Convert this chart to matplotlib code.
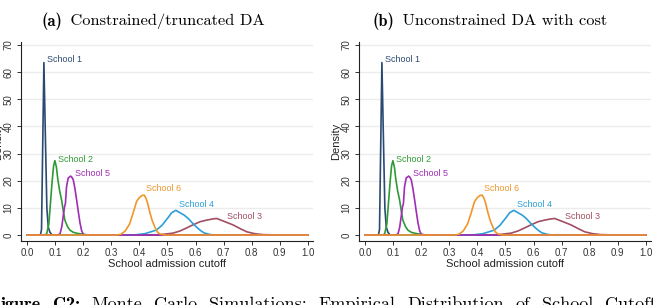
import matplotlib
matplotlib.use("Agg")
import matplotlib.pyplot as plt

plt.rcParams['font.family'] = ['Liberation Sans', 'DejaVu Sans']

# density curves (cutoff, density)
s1_x = [0.0, 0.048, 0.052, 0.0605, 0.066, 0.071, 0.076, 0.082, 0.09, 1.0]
s1_y = [0, 0, 2, 63.5, 35, 10, 3, 1, 0, 0]

s2_x = [0, 0.06, 0.07, 0.078, 0.084, 0.09, 0.095, 0.0996, 0.105, 0.11, 0.117,
        0.1235, 0.13, 0.135, 0.145, 0.153, 0.165, 0.18, 0.2, 0.22, 1.0]
s2_y = [0, 0, 0.3, 4, 12, 20, 25.5, 27.4, 25, 20.5, 16,
        12.9, 8.5, 5.5, 3, 1.8, 1, 0.6, 0.3, 0, 0]

s5_x = [0, 0.11, 0.118, 0.124, 0.13, 0.134, 0.137, 0.141, 0.147, 0.1555, 0.16,
        0.165, 0.171, 0.177, 0.183, 0.189, 0.195, 0.202, 1]
s5_y = [0, 0, 0.5, 3, 7.5, 10.5, 11.5, 17.8, 21, 21.7, 21.3,
        20.3, 17, 12.9, 8.5, 4.4, 1.5, 0, 0]

s6_x = [0, 0.32, 0.335, 0.35, 0.365, 0.378, 0.39, 0.40, 0.41, 0.4176, 0.425,
        0.43, 0.438, 0.446, 0.455, 0.464, 0.473, 0.49, 1]
s6_y = [0, 0, 0.3, 1.5, 4, 8.1, 12.3, 13.8, 14.6, 14.7, 13.2,
        11.5, 8.1, 5.3, 3, 1.2, 0.4, 0, 0]

s4_x = [0, 0.38, 0.42, 0.46, 0.48, 0.503, 0.515, 0.530, 0.545, 0.56, 0.574,
        0.59, 0.605, 0.616, 0.63, 0.651, 0.67, 1]
s4_y = [0, 0, 0.5, 1.8, 3.5, 6.5, 8.2, 9.1, 8.2, 7.3, 6.1,
        4.3, 2.8, 1.8, 0.8, 0.2, 0, 0]

s3_x = [0, 0.44, 0.48, 0.52, 0.545, 0.568, 0.59, 0.616, 0.64, 0.66, 0.675,
        0.69, 0.71, 0.734, 0.76, 0.782, 0.81, 0.84, 0.9, 1]
s3_y = [0, 0, 0.2, 0.7, 1.5, 2.6, 3.7, 4.9, 5.5, 5.9, 6.1,
        5.5, 4.7, 3.7, 2.3, 1.2, 0.5, 0.15, 0, 0]

schools = ['School 1', 'School 2', 'School 3', 'School 4', 'School 5', 'School 6']
curves = [(s1_x, s1_y), (s2_x, s2_y), (s3_x, s3_y), (s4_x, s4_y), (s5_x, s5_y), (s6_x, s6_y)]
colors = ['#2b4a73', '#2f9a35', '#a14e62', '#2b9fd8', '#a02db5', '#f0962a']
# where the labels sit (cutoff, density)
label_x = [0.071, 0.112, 0.713, 0.542, 0.171, 0.422]
label_y = [64.5, 27.9, 6.9, 11.4, 22.5, 17.0]

title_tags = ['(a)', '(b)']
title_texts = ['Constrained/truncated DA', 'Unconstrained DA with cost']

W, H = 653, 305
fig = plt.figure(figsize=(W / 100, H / 100), dpi=100)
rend = fig.canvas.get_renderer()


def px_axes(x0, y0, x1, y1):
    return fig.add_axes([x0 / W, 1 - y1 / H, (x1 - x0) / W, (y1 - y0) / H])


def text_w(t):
    return t.get_window_extent(renderer=rend).width


panels = [px_axes(21, 42, 313, 241), px_axes(359, 42, 651, 241)]
title_cx = [153, 490]

for ax, tag, ttl, cx in zip(panels, title_tags, title_texts, title_cx):
    for y in range(10, 80, 10):
        ax.axhline(y, color='#ececec', lw=1.0, zorder=0)
    for (xs, ys), c in zip(curves, colors):
        ax.plot(xs, ys, color=c, lw=1.2, zorder=2)
    for name, c, lx, ly in zip(schools, colors, label_x, label_y):
        ax.text(lx, ly, name, color=c, fontsize=6.5, va='center', ha='left')

    ax.set_xlim(-0.021, 1.018)
    ax.set_ylim(-2.2, 71.1)
    ax.set_xticks([i / 10 for i in range(11)])
    ax.set_xticklabels(['%.1f' % (i / 10) for i in range(11)])
    ax.set_yticks(range(0, 80, 10))
    ax.tick_params(axis='x', labelsize=7, length=3, width=0.7, pad=2,
                   colors='#333333')
    ax.tick_params(axis='y', labelsize=7, length=3, width=0.7, pad=2.5,
                   colors='#333333', labelrotation=90)
    for lab in ax.get_yticklabels():
        lab.set_va('center')
    for s in ['top', 'right']:
        ax.spines[s].set_visible(False)
    for s in ['left', 'bottom']:
        ax.spines[s].set_linewidth(0.8)
        ax.spines[s].set_color('#222222')
    ax.set_xlabel('School admission cutoff', fontsize=8, color='#222222', labelpad=1)
    ax.set_ylabel('Density', fontsize=8, color='#222222', labelpad=0.5)

    # title: bold tag + roman text, centred as a whole
    t1 = fig.text(0, 1 - 21 / H, tag, fontsize=11.8, family='cmb10', va='center')
    t2 = fig.text(0, 1 - 21 / H, ' ' + ttl, fontsize=11.8, family='cmr10', va='center')
    w1, w2 = text_w(t1), text_w(t2)
    x0 = cx - (w1 + w2 + 3) / 2
    t1.set_x(x0 / W)
    t2.set_x((x0 + w1 + 3) / W)

# caption, cut off by the crop; words spread out like justified text
words = ['igure', 'C2:', 'Monte', 'Carlo', 'Simulations:', 'Empirical',
         'Distribution', 'of', 'School', 'Cutoff']
bold = [True, True, False, False, False, False, False, False, False, False]
objs = [fig.text(0, 1 - 309 / H, w, fontsize=13, ha='left', va='baseline',
                 family='cmb10' if b else 'cmr10') for w, b in zip(words, bold)]
widths = [text_w(o) for o in objs]
start, last_start = 1, 605
gap = (last_start - start - sum(widths[:-1])) / (len(words) - 1)
x = start
for o, w in zip(objs, widths):
    o.set_x(x / W)
    x += w + gap

fig.savefig('out.png', dpi=100)
